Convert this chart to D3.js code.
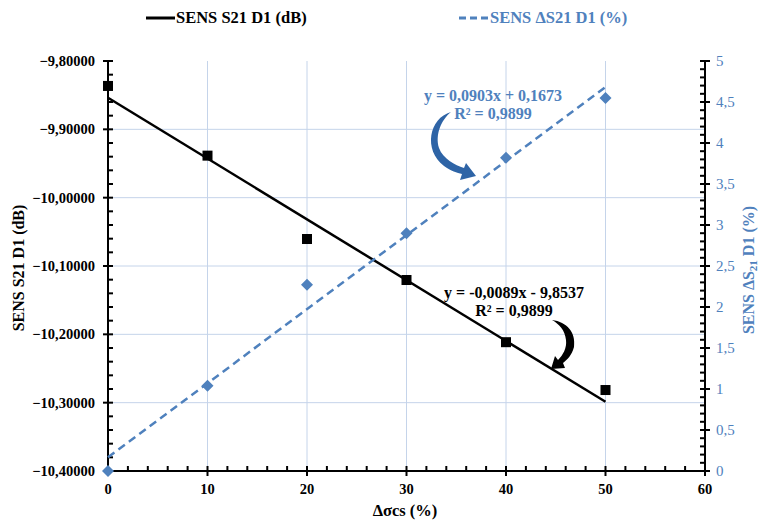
<!DOCTYPE html>
<html><head><meta charset="utf-8">
<script src="https://cdn.jsdelivr.net/npm/d3@7"></script>
<style>body{margin:0;background:#fff}svg{display:block}text{font-family:"Liberation Serif","Times New Roman",serif}</style>
</head><body><svg id="c" width="758" height="522"></svg>
<script>
const xValues = [0, 10, 20, 30, 40, 50];
const s21 = [-9.8365, -9.9385, -10.0605, -10.1205, -10.2115, -10.2815];
const dS21 = [0, 1.04, 2.27, 2.90, 3.82, 4.55];
const trendS21 = {slope: -0.0089, intercept: -9.8537};
const trendD = {slope: 0.0903, intercept: 0.1673};
const leftTicks = [-9.8, -9.9, -10.0, -10.1, -10.2, -10.3, -10.4];
const rightTicks = [0, 0.5, 1, 1.5, 2, 2.5, 3, 3.5, 4, 4.5, 5];
const xTicks = [0, 10, 20, 30, 40, 50, 60];

const blue = "#4F81BD", grid = "#C5D4EA";
const svg = d3.select("#c");
const L = 108, R = 705, T = 61, B = 471;
const x = d3.scaleLinear().domain([0, 60]).range([L, R]);
const yL = d3.scaleLinear().domain([-10.4, -9.8]).range([B, T]);
const yR = d3.scaleLinear().domain([0, 5]).range([B, T]);
const fmtL = v => d3.format(".5f")(v).replace(".", ",");
const fmtR = v => String(v).replace(".", ",");

// gridlines
svg.append("g").selectAll("line.v").data(xTicks.filter(d => d > 0 && d < 60)).join("line")
  .attr("x1", d => x(d)).attr("x2", d => x(d)).attr("y1", T).attr("y2", B)
  .attr("stroke", grid).attr("stroke-width", 1);
svg.append("g").selectAll("line.h").data(leftTicks.filter(d => d < -9.85 && d > -10.35)).join("line")
  .attr("x1", L).attr("x2", R).attr("y1", d => yL(d)).attr("y2", d => yL(d))
  .attr("stroke", grid).attr("stroke-width", 1);

// axes
const ax = svg.append("g").attr("stroke", "#000").attr("stroke-width", 2);
ax.append("line").attr("x1", L).attr("x2", L).attr("y1", T).attr("y2", B + 1);
ax.append("line").attr("x1", R).attr("x2", R).attr("y1", T).attr("y2", B + 1);
ax.append("line").attr("x1", L - 1).attr("x2", R + 1).attr("y1", B).attr("y2", B);
// left ticks
d3.range(0, 31).forEach(i => {
  const v = -10.4 + i * 0.02, y = yL(v), major = i % 5 === 0;
  ax.append("line").attr("x1", major ? L - 5 : L).attr("x2", L + 5).attr("y1", y).attr("y2", y);
});
// right ticks
d3.range(0, 51).forEach(i => {
  const v = i * 0.1, y = yR(v), major = i % 5 === 0;
  ax.append("line").attr("x1", R - 5).attr("x2", major ? R + 5 : R).attr("y1", y).attr("y2", y);
});
// bottom ticks
d3.range(0, 31).forEach(i => {
  const v = i * 2, xx = x(v), major = i % 5 === 0;
  ax.append("line").attr("x1", xx).attr("x2", xx).attr("y1", B - 5).attr("y2", major ? B + 5 : B);
});

// tick labels
svg.append("g").selectAll("text").data(leftTicks).join("text")
  .attr("x", 95).attr("y", d => yL(d) + 5).attr("text-anchor", "end")
  .attr("font-size", 14.5).attr("font-weight", "bold").text(fmtL);
svg.append("g").selectAll("text").data(rightTicks).join("text")
  .attr("x", 716).attr("y", d => yR(d) + 5).attr("font-size", 15).attr("fill", blue).text(fmtR);
svg.append("g").selectAll("text").data(xTicks).join("text")
  .attr("x", d => x(d)).attr("y", 494).attr("text-anchor", "middle")
  .attr("font-size", 14.5).attr("font-weight", "bold").text(d => d);

// axis titles
svg.append("text").attr("transform", "translate(24,268) rotate(-90)").attr("text-anchor", "middle")
  .attr("font-size", 16).attr("font-weight", "bold").text("SENS S21 D1 (dB)");
const rt = svg.append("text").attr("transform", "translate(754,270) rotate(-90)").attr("text-anchor", "middle")
  .attr("font-size", 16).attr("font-weight", "bold").attr("fill", blue);
rt.append("tspan").text("SENS ΔS");
rt.append("tspan").attr("font-size", 11).attr("dy", 3).text("21");
rt.append("tspan").attr("dy", -3).text(" D1 (%)");
svg.append("text").attr("x", 405).attr("y", 516).attr("text-anchor", "middle")
  .attr("font-size", 16.5).attr("font-weight", "bold").text("Δσcs (%)");

// trendlines
svg.append("line").attr("x1", x(0)).attr("x2", x(50))
  .attr("y1", yL(trendS21.intercept)).attr("y2", yL(trendS21.intercept + 50 * trendS21.slope))
  .attr("stroke", "#000").attr("stroke-width", 2.5);
svg.append("line").attr("x1", x(0)).attr("x2", x(50))
  .attr("y1", yR(trendD.intercept)).attr("y2", yR(trendD.intercept + 50 * trendD.slope))
  .attr("stroke", blue).attr("stroke-width", 2.5).attr("stroke-dasharray", "8,5");

// markers
svg.append("g").selectAll("rect").data(xValues).join("rect")
  .attr("x", (d) => x(d) - 5).attr("y", (d, i) => yL(s21[i]) - 5)
  .attr("width", 10).attr("height", 10).attr("fill", "#000");
svg.append("g").selectAll("path").data(xValues).join("path")
  .attr("d", (d, i) => `M${x(d)},${yR(dS21[i]) - 6}l6,6l-6,6l-6,-6z`).attr("fill", blue);

// equations
const eq = (cx, y1, l1, l2, col) => {
  svg.append("text").attr("x", cx).attr("y", y1).attr("text-anchor", "middle").attr("font-size", 16)
    .attr("font-weight", "bold").attr("fill", col).text(l1);
  svg.append("text").attr("x", cx).attr("y", y1 + 18).attr("text-anchor", "middle").attr("font-size", 16)
    .attr("font-weight", "bold").attr("fill", col).text(l2);
};
eq(493, 101, "y = 0,0903x + 0,1673", "R² = 0,9899", blue);
eq(514, 298, "y = -0,0089x - 9,8537", "R² = 0,9899", "#000");

// curved arrows
svg.append("path").attr("fill", "#2E64A6")
  .attr("d", "M451,112 C429,118 423,150 444,166 C451,171 457,173 462,174 L460,180 L476,176 L466,163 L464,168 C455,165 443,159 439,148 C435,135 441,120 451,112 Z");
svg.append("path").attr("fill", "#000")
  .attr("d", "M552,320 C567,322 576,332 574,347 C572,355 567,360 563,363 L565,368 L551,369 L555,356 L558,360 C563,355 567,348 566,340 C565,330 559,324 552,320 Z");

// legend
svg.append("line").attr("x1", 146).attr("x2", 175).attr("y1", 18).attr("y2", 18).attr("stroke", "#000").attr("stroke-width", 3);
svg.append("text").attr("x", 176).attr("y", 23).attr("font-size", 16.5).attr("font-weight", "bold").text("SENS S21 D1 (dB)");
svg.append("line").attr("x1", 459).attr("x2", 489).attr("y1", 18).attr("y2", 18).attr("stroke", blue).attr("stroke-width", 3).attr("stroke-dasharray", "7,4");
svg.append("text").attr("x", 490).attr("y", 23).attr("font-size", 16.5).attr("font-weight", "bold").attr("fill", blue).text("SENS ΔS21 D1 (%)");
</script></body></html>
